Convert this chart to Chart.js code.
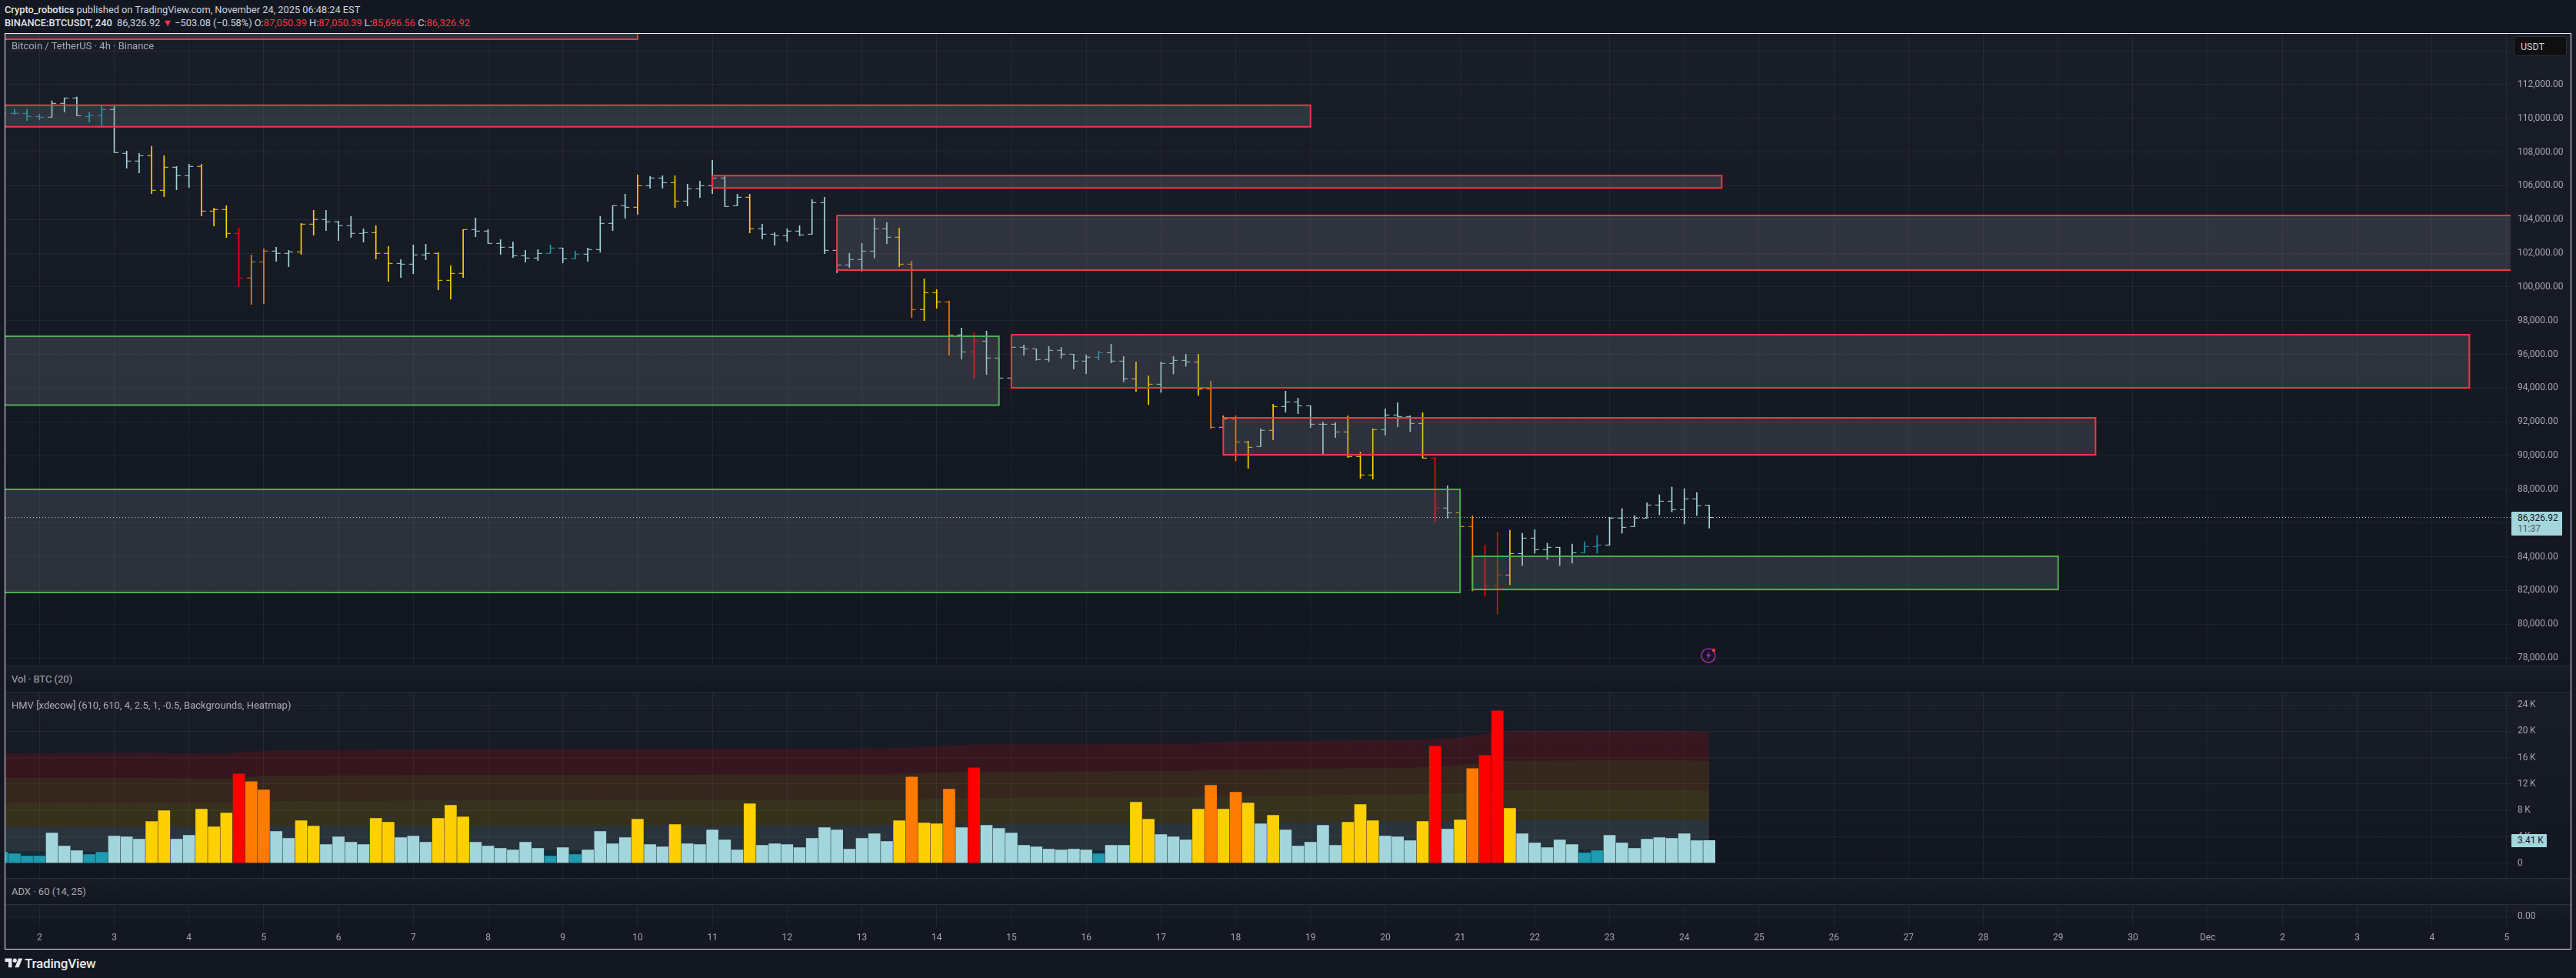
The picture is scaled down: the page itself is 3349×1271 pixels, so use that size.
<!DOCTYPE html>
<html>
<head>
<meta charset="utf-8">
<title>BTCUSDT 4h</title>
<script src="https://cdn.jsdelivr.net/npm/chart.js@4/dist/chart.umd.min.js"></script>
<style>
  html, body { margin: 0; padding: 0; background: #131722; width: 3349px; height: 1271px; overflow: hidden; }
  body { position: relative; font-family: Roboto, sans-serif; color: #d1d4dc; }
  .abs { position: absolute; white-space: nowrap; }
  canvas { position: absolute; left: 7px; }
  .pane { position: absolute; left: 7px; width: 3335px; background: linear-gradient(#191d28, #12161f); }
  .sep { position: absolute; left: 7px; width: 3335px; height: 1px; background: #2a2e39; }
  .title { font-size: 13px; color: #a8abb4; left: 15px; line-height: 16px; }
  .head { font-size: 12.8px; left: 6px; line-height: 16px; color: #d1d4dc; }
  .head b { font-weight: 500; color: #e3e5ea; }
  .down { color: #f23645; }
</style>
</head>
<body>
<div class="abs head" style="top:5px"><b>Crypto_robotics</b> published on TradingView.com, November 24, 2025 06:48:24 EST</div>
<div class="abs head" style="top:22px"><b>BINANCE:BTCUSDT, 240</b> &nbsp;86,326.92 <span class="down">▼</span> −503.08 (−0.58%) O:<span class="down">87,050.39</span> H:<span class="down">87,050.39</span> L:<span class="down">85,696.56</span> C:<span class="down">86,326.92</span></div>

<div class="pane" style="top:44px;height:821px"></div>
<div class="pane" style="top:865px;height:34px"></div>
<div class="pane" style="top:899px;height:242px"></div>
<div class="pane" style="top:1141px;height:34px"></div>
<div class="pane" style="top:1175px;height:30px"></div>

<canvas id="priceChart" width="3335" height="821" style="top:44px"></canvas>
<canvas id="volumeChart" width="3335" height="242" style="top:899px"></canvas>
<canvas id="adxChart" width="3335" height="58" style="top:1175px"></canvas>

<div class="sep" style="top:865px"></div>
<div class="sep" style="top:899px"></div>
<div class="sep" style="top:1141px"></div>
<div class="sep" style="top:1175px"></div>

<div class="abs title" style="top:52px">Bitcoin / TetherUS · 4h · Binance</div>
<div class="abs title" style="top:875px">Vol · BTC (20)</div>
<div class="abs title" style="top:909px">HMV [xdecow] (610, 610, 4, 2.5, 1, -0.5, Backgrounds, Heatmap)</div>
<div class="abs title" style="top:1151px">ADX · 60 (14, 25)</div>

<div class="abs" style="left:3268px;top:47px;width:69px;height:26px;background:#0f0f0f;border:1px solid #2a2e39;border-radius:4px;box-sizing:border-box;font-size:12.5px;line-height:25px;padding-left:8px;color:#d1d4dc">USDT</div>
<div class="abs" style="left:3265px;top:665px;width:66px;height:31px;background:#a3d6dc;border-radius:1px;font-size:12px;line-height:14px;color:#131722"><div style="padding:1px 0 0 8px">86,326.92</div><div style="padding-left:8px;color:#4c5a60">11:37</div></div>
<div class="abs" style="left:3265px;top:1084px;width:46px;height:17px;background:#a3d6dc;border-radius:1px;font-size:12px;line-height:17px;padding-left:8px;box-sizing:border-box;color:#131722">3.41 K</div>

<svg class="abs" style="left:2210px;top:841px" width="24" height="22" viewBox="0 0 24 22">
  <ellipse cx="11" cy="11" rx="9" ry="9" fill="none" stroke="#9c27b0" stroke-width="1.6"/>
  <path d="M12.5 5 L8 12 L11 12 L9.5 17 L14.5 9.5 L11.5 9.5 Z" fill="#9c27b0"/>
  <circle cx="18" cy="4" r="2.2" fill="#f23645"/>
</svg>

<svg class="abs" style="left:6px;top:1243px" width="24" height="18" viewBox="0 0 36 28">
  <path fill="#e8e8ea" d="M14 22H7V11H0V4h14v18zM28 22h-8l7.5-18h8L28 22z"/><circle fill="#e8e8ea" cx="20" cy="8" r="4"/>
</svg>
<div class="abs" style="left:32px;top:1241px;font-size:17px;line-height:22px;font-weight:500;color:#e8e8ea;letter-spacing:-.2px">TradingView</div>

<div class="abs" style="left:6px;top:43px;width:3335px;height:1189px;border:1px solid #eceef2;pointer-events:none"></div>

<script>
// bars are counted from Nov 2 00:00, six 4h bars per day
const firstBar = -3;

const opens = [
  110327,110297,110297,110114,110069,110890,111209,110114,110160,110525,
  107924,107468,107787,105734,107103,106601,107148,104502,104593,103178,
  100532,101490,102129,101992,102083,103726,104000,103863,103635,103178,
  103224,101991,101398,101352,101900,101991,100394,100805,103405,103314,
  102584,102356,101854,101717,101991,102310,101672,101945,102219,103771,
  104820,104729,106006,106463,106189,105094,105824,106006,106463,104820,
  105322,103451,103131,103040,103314,103131,105002,102173,101306,101625,
  102127,103451,102949,101352,98660,99663,99116,97154,96150,96789,
  95785,94599,96424,96332,95694,96241,96013,95603,95831,96104,
  95601,94551,94019,94232,95464,95647,95555,93943,91677,92179,
  90810,90536,91494,92909,93183,92954,91859,91859,91403,89943,
  88848,91540,92407,92316,91905,89851,86886,86612,85788,82062,
  82275,82914,84191,85104,84419,84556,84009,84237,84602,84693,
  86290,85788,86290,87066,87294,86792,87431,87050.39
];
const highs = [
  110479,110540,110540,110251,111042,111209,111270,110358,110723,110723,
  108061,107924,108350,107787,107148,107285,107285,104684,104821,103498,
  101901,102266,102357,102175,103772,104547,104547,103909,104182,103452,
  103635,102402,101626,102493,102539,102037,101261,103405,104090,103405,
  102812,102676,102174,102219,102493,102310,102128,102310,104181,104820,
  105504,106645,106554,106600,106600,106098,106280,107512,106554,105504,
  105504,103725,103223,103451,103633,105185,105322,102173,101991,102584,
  104090,103816,103496,101534,100485,99846,99162,97565,97291,97382,
  95785,96424,96561,96332,96469,96424,96013,95967,96195,96606,
  95875,95555,94734,95555,95875,96012,96012,94415,92361,92361,
  90855,91585,93046,93821,93411,92954,91996,91951,92361,90217,
  91585,92772,93137,92361,92544,89897,88209,86612,86427,84693,
  85469,85575,85393,85606,84800,84556,84754,84891,85256,86336,
  86853,86442,87203,87674,88131,88039,87811,87050.39
];
const lows = [
  110099,110221,109871,109917,110069,110373,110160,109764,109551,107970,
  107042,106768,105536,105354,105764,105901,104213,103620,102935,100015,
  98965,99011,101521,101201,101931,103072,103346,102753,102935,102661,
  101657,100333,100561,100789,101611,99831,99284,100561,102980,102584,
  101930,101748,101474,101565,101991,101428,101672,101519,102067,103345,
  104075,104303,105854,105854,104714,104805,105307,105535,104774,104820,
  103208,102843,102477,102705,103040,103131,101975,100850,101154,100941,
  101717,102569,101200,98188,98005,98736,95952,95724,94583,94811,
  94599,94599,95952,95648,95572,95770,95131,94857,95678,95496,
  94384,93791,93015,93745,94840,95297,93563,91601,91677,89684,
  89243,90536,90931,92574,92483,91662,90080,91068,89882,88650,
  88604,91205,91707,91433,89851,86095,86292,85790,81971,81651,
  80602,82336,83476,84206,83841,83476,83613,84237,84206,84693,
  85393,85788,86290,86488,86670,85940,86442,85696.56
];
const closes = [
  110297,110297,110114,110069,110890,111209,110160,110160,110525,107970,
  107468,107787,105734,107103,106601,107148,104502,104593,103178,100532,
  101490,102129,101992,102083,103726,104000,103863,103635,103178,103224,
  101992,101398,101352,101900,101991,100394,100805,103405,103314,102584,
  102356,101854,101717,101991,102310,101672,101945,102219,103771,104820,
  104729,106006,106463,106189,105094,105824,106006,106463,104774,105322,
  103451,103132,103040,103314,103086,105002,102173,101306,101625,102127,
  103451,102949,101352,98660,99663,99116,97154,96150,96789,95785,
  94599,96424,96332,95694,96241,96013,95603,95831,96104,95603,
  94551,94019,94232,95464,95647,95555,93943,91677,92179,90810,
  90490,91494,92909,93183,92954,91859,91859,91403,89943,88848,
  91540,92407,92316,91905,89851,86886,86612,85790,82062,82275,
  82914,84191,85104,84419,84556,84009,84237,84602,84693,86290,
  85743,86290,87066,87294,86792,87431,87020,86326.92
];
// volume, thousands of BTC
const volumes = [
  1.63,1.40,1.05,1.05,4.55,2.57,1.87,1.28,1.63,4.09,
  3.97,3.62,6.30,7.94,3.62,4.20,8.17,5.49,7.59,13.54,
  12.37,11.09,4.79,3.74,6.42,5.60,2.80,3.97,3.15,2.80,
  6.77,6.19,3.85,4.09,3.15,6.77,8.75,7.00,3.15,2.57,
  2.22,1.98,3.15,2.22,1.05,2.33,1.28,1.98,4.79,2.92,
  3.85,6.65,2.80,2.45,5.84,2.92,2.80,5.02,3.50,1.98,
  8.99,2.68,2.92,2.80,2.33,3.74,5.37,5.02,2.10,3.74,
  4.44,3.27,6.42,13.07,6.07,5.95,11.21,5.37,14.47,5.72,
  5.25,4.55,2.68,2.45,2.10,1.98,2.10,1.98,1.40,2.68,
  2.68,9.22,6.65,4.32,3.97,3.50,8.17,11.79,8.17,10.74,
  9.11,5.95,7.24,5.02,2.57,3.15,5.72,2.68,6.19,8.87,
  6.42,4.09,3.97,3.39,6.30,17.74,5.14,6.54,14.36,16.34,
  23.11,8.29,4.44,3.04,2.33,3.50,2.80,1.52,1.87,4.20,
  3.04,2.22,3.62,3.85,3.74,4.44,3.39,3.41
];
// heatmap tier of each bar: t low, l normal, y high, o very high, r extreme
const heatTiers = (
  "t t t t l l l t t l " +
  "l l y y l l y y y r " +
  "o o l l y y l l l l " +
  "y y l l l y y y l l " +
  "l l l l t l t l l l " +
  "l y l l y l l l l l " +
  "y l l l l l l l l l " +
  "l l y o y y o l r l " +
  "l l l l l l l l t l " +
  "l y y l l l y o y o " +
  "y l y l l l l l y y " +
  "y l l l y r l y o r " +
  "r y l l l l l t t l " +
  "l l l l l l l l"
).split(" ");
const tierColors = { t: "#1f9bb0", l: "#a3d6dc", y: "#ffd000", o: "#ff7b00", r: "#ff0000" };

// heatmap band edges, thousands of BTC, read at these bars
const bandBars = [-3, 9, 15, 16, 19, 33, 47, 68, 70, 75, 92, 96, 110, 114, 117, 118, 132, 134];
const bandExtreme = [16.65,16.73,16.58,16.85,17.08,17.28,17.32,17.39,17.55,18.02,18.09,18.44,18.68,19.03,19.88,20.08,20.08,19.92];
const bandVeryHigh = [12.96,12.96,12.84,13.04,13.27,13.39,13.39,13.54,13.62,13.85,14.01,14.20,14.47,14.86,15.41,15.56,15.60,15.49];
const bandHigh = [9.22,9.22,9.11,9.26,9.42,9.53,9.53,9.65,9.69,9.88,10.00,10.16,10.47,10.66,10.97,11.05,11.09,10.97];
const bandNormal = [5.45,5.45,5.41,5.45,5.60,5.68,5.68,5.72,5.72,5.91,5.99,6.15,6.26,6.38,6.54,6.54,6.54,6.46];
const bandLow = [1.75,1.75,1.79,1.79,1.83,1.95,1.95,1.95,1.95,1.91,1.91,1.91,1.95,1.98,1.98,1.98,1.98,1.98];

// zones drawn on the price chart
const boxLeft = [-5, -5, 54, 64, -5, 78, 95, -5, 115];
const boxRight = [48, 102, 135, 210, 77, 195, 165, 114, 162];
const boxTop = [117000, 110782, 106601, 104241, 97076, 97167, 92238, 87994, 84023];
const boxBottom = [114693, 109503, 105870, 101001, 92991, 94018, 90047, 81878, 82060];
const boxIsSupport = [false, false, false, false, true, false, false, true, true];

const lastPrice = 86326.92;
const priceTicks = [78000,80000,82000,84000,86000,88000,90000,92000,94000,96000,98000,100000,102000,104000,106000,108000,110000,112000,114000];
const volumeTicks = [0, 4, 8, 12, 16, 20, 24];
const adxTicks = [0];
const dayLabels = ["2","3","4","5","6","7","8","9","10","11","12","13","14","15","16","17","18","19","20","21","22","23","24","25","26","27","28","29","30","Dec","2","3","4","5"];

const barsPerDay = 6;
const xMin = -2.735;
const xMax = 198.31;
const tickFont = { family: "Roboto, sans-serif", size: 12 };
const gridColor = "rgba(240,243,250,0.06)";
const barIndex = opens.map((_, k) => firstBar + k);
const barColors = heatTiers.map((t) => tierColors[t]);

function paneOptions(yMin, yMax, yTicks, formatY, showDays) {
  return {
    responsive: false,
    animation: false,
    devicePixelRatio: 1,
    events: [],
    layout: { padding: 0, autoPadding: false },
    plugins: { legend: { display: false }, tooltip: { enabled: false } },
    scales: {
      x: {
        type: "linear",
        offset: false,
        min: xMin,
        max: xMax,
        grid: { color: gridColor, offset: false, drawTicks: false },
        border: { display: false },
        afterBuildTicks: (axis) => {
          axis.ticks = dayLabels.map((_, k) => ({ value: k * barsPerDay }));
        },
        afterFit: (axis) => {
          axis.height = showDays ? 28 : 0;
          axis.paddingLeft = 0;
          axis.paddingRight = 0;
        },
        ticks: {
          display: showDays,
          autoSkip: false,
          maxRotation: 0,
          padding: 7,
          color: "#a3a6af",
          font: tickFont,
          callback: (value) => dayLabels[value / barsPerDay],
        },
      },
      y: {
        position: "right",
        min: yMin,
        max: yMax,
        grid: { color: gridColor, drawTicks: false },
        border: { display: false },
        afterBuildTicks: (axis) => {
          axis.ticks = yTicks.map((value) => ({ value }));
        },
        // the tick padding would otherwise shrink the plot height
        afterFit: (axis) => {
          axis.width = 78;
          axis.paddingTop = 0;
          axis.paddingBottom = 0;
        },
        ticks: { padding: 9, color: "#a3a6af", font: tickFont, autoSkip: false, callback: formatY },
      },
    },
  };
}

function formatPrice(value) {
  if (value > 112000) return "";
  return value.toLocaleString("en-US", { minimumFractionDigits: 2, maximumFractionDigits: 2 });
}

// one closed outline per zone
const boxDatasets = boxLeft.map((left, k) => ({
  type: "line",
  order: 1,
  data: [
    { x: left, y: boxTop[k] },
    { x: boxRight[k], y: boxTop[k] },
    { x: boxRight[k], y: boxBottom[k] },
    { x: left, y: boxBottom[k] },
    { x: left, y: boxTop[k] },
  ],
  fill: "shape",
  backgroundColor: "rgba(120,123,134,0.26)",
  borderColor: boxIsSupport[k] ? "#4caf50" : "#f23645",
  borderWidth: 2,
  pointRadius: 0,
  tension: 0,
}));

function tickDataset(values, shift) {
  return {
    type: "line",
    order: 2,
    showLine: false,
    data: values.map((v, k) => ({ x: barIndex[k] + shift, y: v })),
    pointStyle: "line",
    pointRadius: 2.8,
    pointBorderWidth: 1,
    pointBorderColor: barColors,
  };
}

new Chart(document.getElementById("priceChart"), {
  type: "bar",
  data: {
    datasets: [
      {
        type: "line",
        order: 0,
        data: [{ x: xMin, y: lastPrice }, { x: xMax, y: lastPrice }],
        borderColor: "#a3d6dc",
        borderWidth: 1,
        borderDash: [1, 3],
        pointRadius: 0,
      },
      ...boxDatasets,
      tickDataset(opens, -0.17),
      tickDataset(closes, 0.17),
      {
        order: 2,
        data: barIndex.map((x, k) => ({ x, y: [lows[k], highs[k]] })),
        backgroundColor: barColors,
        barThickness: 1,
      },
    ],
  },
  options: paneOptions(77544, 115012, priceTicks, formatPrice, false),
});

function bandDataset(values, color, target) {
  return {
    type: "line",
    order: 1,
    data: bandBars.map((x, k) => ({ x, y: values[k] })),
    fill: target,
    backgroundColor: color,
    borderWidth: 0,
    pointRadius: 0,
  };
}

new Chart(document.getElementById("volumeChart"), {
  type: "bar",
  data: {
    datasets: [
      {
        order: 0,
        data: barIndex.map((x, k) => ({ x, y: volumes[k] })),
        backgroundColor: barColors,
        barThickness: 15,
      },
      bandDataset(bandExtreme, "rgba(255,0,0,0.14)", "+1"),
      bandDataset(bandVeryHigh, "rgba(255,123,0,0.14)", "+1"),
      bandDataset(bandHigh, "rgba(255,208,0,0.14)", "+1"),
      bandDataset(bandNormal, "rgba(163,214,220,0.15)", "+1"),
      bandDataset(bandLow, "rgba(31,155,176,0.15)", { value: 0 }),
    ],
  },
  options: paneOptions(-2.28, 26.02, volumeTicks, (v) => (v === 0 ? "0" : v + "\u2009K"), false),
});

new Chart(document.getElementById("adxChart"), {
  type: "bar",
  data: { datasets: [{ data: [] }] },
  options: paneOptions(-0.875, 1, adxTicks, (v) => v.toFixed(2), true),
});
</script>
</body>
</html>
